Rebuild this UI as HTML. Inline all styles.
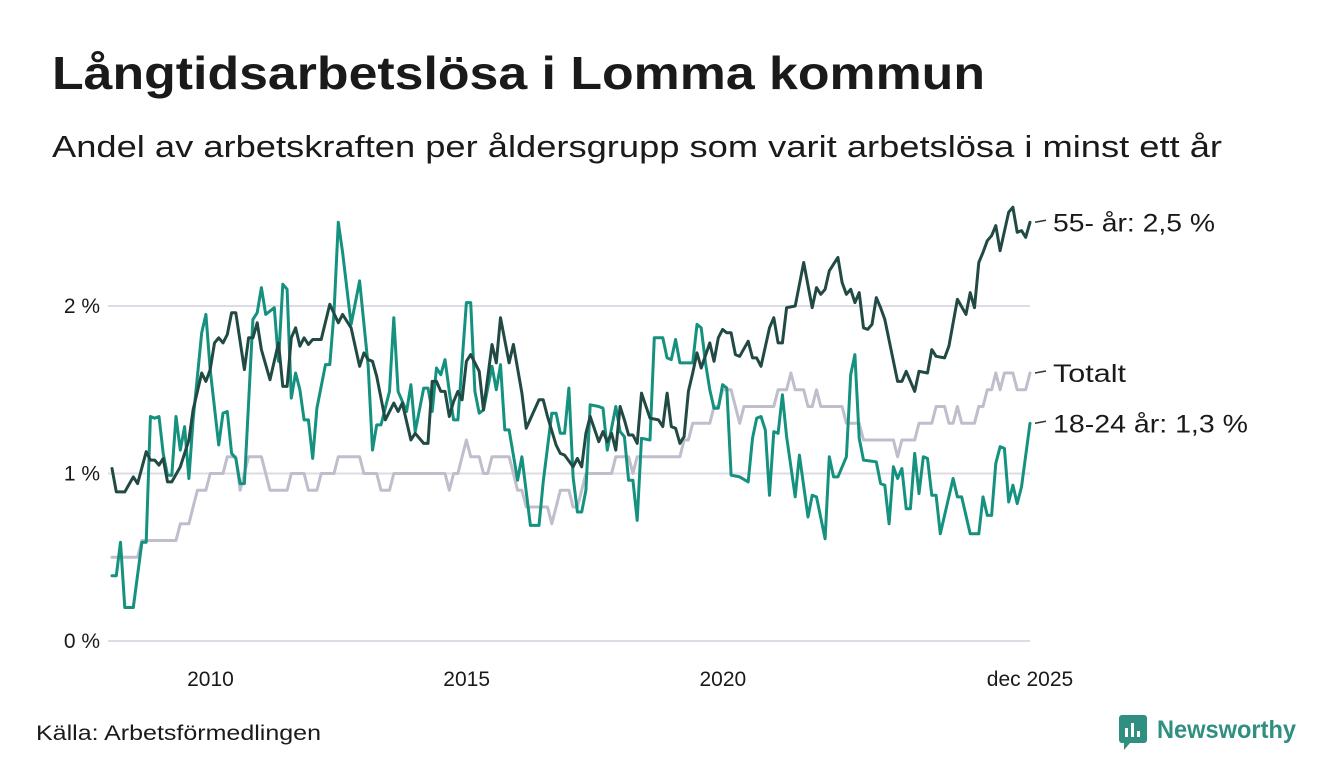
<!DOCTYPE html>
<html><head><meta charset="utf-8"><style>
html,body{margin:0;padding:0;background:#fff;}
svg{display:block;font-family:"Liberation Sans",sans-serif;}
</style></head><body>
<svg width="1340" height="780" viewBox="0 0 1340 780">
<text x="52" y="89" font-size="46" font-weight="bold" fill="#1a1a1a" textLength="933" lengthAdjust="spacingAndGlyphs">Långtidsarbetslösa i Lomma kommun</text>
<text x="52" y="157" font-size="31" fill="#1a1a1a" textLength="1170" lengthAdjust="spacingAndGlyphs">Andel av arbetskraften per åldersgrupp som varit arbetslösa i minst ett år</text>
<g id="grid"></g>
<g id="yticks"></g>
<g id="xticks"></g>
<g id="series"></g>
<g id="labels"></g>
<text x="36" y="740" font-size="21" fill="#1a1a1a" textLength="285" lengthAdjust="spacingAndGlyphs">Källa: Arbetsförmedlingen</text>
<g>
<rect x="1119" y="715" width="28" height="28" rx="3" fill="#2f8f80"/>
<rect x="1125" y="728" width="3" height="9" fill="#fff"/><rect x="1131" y="723" width="3" height="14" fill="#fff"/><rect x="1137" y="731" width="3" height="6" fill="#fff"/>
<path d="M1124 743 L1130 743 L1124 750 Z" fill="#2f8f80"/>
<text x="1157" y="738" font-size="25" font-weight="bold" fill="#2f8f80" textLength="139" lengthAdjust="spacingAndGlyphs">Newsworthy</text>
</g>
</svg>
<script>
const yTicks=[0,1,2];
const yTickLabels=["0 %","1 %","2 %"];
const xTickMonths=[24,84,144,215];
const xTickLabels=["2010","2015","2020","dec 2025"];
const totalt=[.5,.5,.5,.5,.5,.5,.5,.6,.6,.6,.6,.6,
.6,.6,.6,.6,.7,.7,.7,.8,.9,.9,.9,1.0,
1.0,1.0,1.0,1.1,1.1,1.1,.9,1.0,1.1,1.1,1.1,1.1,
1.0,.9,.9,.9,.9,.9,1.0,1.0,1.0,1.0,.9,.9,
.9,1.0,1.0,1.0,1.0,1.1,1.1,1.1,1.1,1.1,1.1,1.0,
1.0,1.0,1.0,.9,.9,.9,1.0,1.0,1.0,1.0,1.0,1.0,
1.0,1.0,1.0,1.0,1.0,1.0,1.0,.9,1.0,1.0,1.1,1.2,
1.1,1.1,1.1,1.0,1.0,1.1,1.1,1.1,1.1,1.1,1.0,.9,
.9,.8,.8,.8,.8,.8,.8,.7,.8,.9,.9,.9,
.8,.8,.9,1.0,1.0,1.0,1.0,1.0,1.0,1.0,1.1,1.1,
1.1,1.1,1.0,1.1,1.1,1.1,1.1,1.1,1.1,1.1,1.1,1.1,
1.1,1.1,1.2,1.2,1.3,1.3,1.3,1.3,1.3,1.4,1.4,1.5,
1.5,1.5,1.4,1.3,1.4,1.4,1.4,1.4,1.4,1.4,1.4,1.4,
1.5,1.5,1.5,1.6,1.5,1.5,1.5,1.4,1.4,1.5,1.4,1.4,
1.4,1.4,1.4,1.4,1.3,1.3,1.3,1.3,1.2,1.2,1.2,1.2,
1.2,1.2,1.2,1.2,1.1,1.2,1.2,1.2,1.2,1.3,1.3,1.3,
1.3,1.4,1.4,1.4,1.3,1.3,1.4,1.3,1.3,1.3,1.3,1.4,
1.4,1.5,1.5,1.6,1.5,1.6,1.6,1.6,1.5,1.5,1.5,1.6];
const oldMonths=[0,1,3,5,6,8,9,10,11,12,13,14,16,18,19,21,22,23,24,25,26,27,28,29,31,32,33,34,35,37,39,40,41,42,43,44,45,46,47,49,51,53,54,56,58,59,60,61,62,64,66,67,68,70,71,73,74,75,76,77,78,79,80,81,82,83,84,86,87,89,90,91,93,94,96,97,100,101,102,104,105,106,108,109,110,111,112,114,115,116,117,118,119,120,121,122,123,124,126,128,129,130,131,132,133,134,135,136,137,138,140,141,142,143,144,145,146,147,149,150,151,152,154,155,156,157,158,160,162,164,165,166,167,168,170,171,172,173,174,175,176,177,178,179,180,181,184,185,186,188,189,191,192,193,195,196,198,200,201,202,203,204,205,206,207,208,210,211,212,213,214,215];
const oldValues=[1.03,.89,.89,.98,.94,1.13,1.08,1.08,1.05,1.09,.95,.95,1.04,1.2,1.38,1.6,1.55,1.62,1.78,1.81,1.78,1.83,1.96,1.96,1.62,1.81,1.81,1.9,1.74,1.56,1.78,1.52,1.52,1.81,1.87,1.76,1.81,1.77,1.8,1.8,2.01,1.9,1.95,1.87,1.64,1.72,1.68,1.67,1.58,1.32,1.42,1.37,1.42,1.2,1.24,1.18,1.18,1.55,1.55,1.49,1.49,1.34,1.43,1.49,1.44,1.67,1.71,1.61,1.38,1.77,1.66,1.93,1.66,1.77,1.48,1.27,1.44,1.44,1.34,1.17,1.12,1.11,1.04,1.09,1.04,1.24,1.34,1.19,1.25,1.19,1.24,1.14,1.4,1.32,1.23,1.23,1.18,1.48,1.33,1.32,1.28,1.48,1.28,1.27,1.18,1.22,1.49,1.6,1.72,1.63,1.78,1.67,1.81,1.86,1.84,1.84,1.71,1.7,1.79,1.69,1.69,1.64,1.87,1.93,1.78,1.78,1.99,2.0,2.26,1.99,2.11,2.07,2.1,2.21,2.29,2.14,2.07,2.1,2.02,2.08,1.87,1.86,1.89,2.05,1.99,1.92,1.55,1.55,1.61,1.49,1.61,1.6,1.74,1.7,1.69,1.76,2.04,1.95,2.08,1.99,2.26,2.32,2.39,2.42,2.48,2.33,2.56,2.59,2.44,2.45,2.41,2.5];
const youngMonths=[0,1,2,3,5,7,8,9,10,11,12,13,14,15,16,17,18,19,20,21,22,23,25,26,27,28,29,30,31,33,34,35,36,38,39,40,41,42,43,44,45,46,47,48,50,51,52,53,54,56,58,60,61,62,63,65,66,67,69,70,71,73,74,75,76,77,78,79,80,81,83,84,85,86,87,89,90,91,92,93,95,96,98,100,101,103,104,105,106,107,108,109,110,111,112,114,115,116,118,119,120,121,122,123,124,126,127,129,130,131,132,133,135,136,137,138,139,140,141,142,143,144,145,147,149,150,151,152,153,154,155,156,157,158,160,161,163,164,165,167,168,169,170,172,173,174,175,176,179,180,181,182,183,184,185,186,187,188,189,190,191,192,193,194,197,198,199,201,203,204,205,206,207,208,209,210,211,212,213,215];
const youngValues=[.39,.39,.59,.2,.2,.59,.59,1.34,1.33,1.34,1.12,.99,.99,1.34,1.14,1.28,.97,1.32,1.58,1.84,1.95,1.62,1.17,1.36,1.37,1.12,1.09,.94,.94,1.92,1.96,2.11,1.95,1.99,1.67,2.13,2.1,1.45,1.6,1.5,1.32,1.32,1.09,1.39,1.65,1.65,1.96,2.5,2.32,1.89,2.15,1.64,1.14,1.29,1.29,1.49,1.93,1.49,1.37,1.53,1.25,1.51,1.51,1.37,1.63,1.59,1.68,1.49,1.32,1.32,2.02,2.02,1.49,1.36,1.38,1.64,1.5,1.65,1.26,1.26,.96,1.1,.69,.69,.95,1.36,1.36,1.24,1.24,1.51,.98,.77,.77,.9,1.41,1.4,1.39,1.14,1.4,1.25,1.22,.96,.96,.72,1.21,1.2,1.81,1.81,1.69,1.68,1.8,1.66,1.66,1.66,1.89,1.87,1.66,1.5,1.39,1.39,1.53,1.51,.99,.98,.95,1.21,1.33,1.34,1.26,.87,1.25,1.24,1.47,1.22,.86,1.11,.74,.87,.86,.61,1.1,.98,.98,1.1,1.59,1.71,1.21,1.08,1.07,.94,.93,.7,1.04,.97,1.03,.79,.79,1.12,.88,1.1,1.09,.87,.87,.64,.97,.86,.86,.64,.64,.86,.75,.75,1.06,1.16,1.15,.83,.93,.82,.92,1.3];
const seriesNames=["Totalt","55- år: 2,5 %","18-24 år: 1,3 %"];

const NS="http://www.w3.org/2000/svg";
const X0=112,X1=1030,M0=0,M1=215,Y0=641,PX=167.5;
const xScale=m=>X0+(m-M0)*(X1-X0)/(M1-M0);
const yScale=v=>Y0-v*PX;
const labelWidths=[73,162,195];
function mk(tag,parent,attrs){const e=document.createElementNS(NS,tag);for(const k in attrs)e.setAttribute(k,attrs[k]);parent.appendChild(e);return e;}
const grid=document.getElementById('grid'),yt=document.getElementById('yticks'),xt=document.getElementById('xticks'),sg=document.getElementById('series'),lg=document.getElementById('labels');
yTicks.forEach((v,i)=>{
  const l=mk('line',grid,{x1:108,x2:1030,y1:yScale(v),y2:yScale(v),stroke:'#dddbe3','stroke-width':2});
  
  
  const t=mk('text',yt,{x:100,y:yScale(v)+7,'font-size':21,fill:'#1a1a1a','text-anchor':'end'});
  t.textContent=yTickLabels[i];
  
  
});
xTickMonths.forEach((m,i)=>{
  const t=mk('text',xt,{x:i===3?xScale(m):xScale(m)-4,y:686,'font-size':21,fill:'#1a1a1a','text-anchor':'middle'});
  t.textContent=xTickLabels[i];
  
  
});
function line(months,vals,color,name){
  const d=vals.map((v,i)=>(i?'L':'M')+xScale(months[i]).toFixed(1)+' '+yScale(v).toFixed(1)).join(' ');
  const p=mk('path',sg,{d:d,fill:'none',stroke:color,'stroke-width':3,'stroke-linejoin':'round','stroke-linecap':'round'});
  
  
}
line(totalt.map((v,i)=>i),totalt,'#c0bdcc','line-totalt');
line(youngMonths,youngValues,'#15917f','line-18-24');
line(oldMonths,oldValues,'#214a44','line-55-plus');
const ends=[totalt[totalt.length-1],oldValues[oldValues.length-1],youngValues[youngValues.length-1]];
ends.forEach((v,i)=>{
  const y=yScale(v);
  const l=mk('line',lg,{x1:1035,x2:1046,y1:y,y2:y-2,stroke:'#333','stroke-width':1.5});
  
  
  const t=mk('text',lg,{x:1053,y:y+9,'font-size':25,fill:'#1a1a1a',textLength:labelWidths[i],lengthAdjust:'spacingAndGlyphs'});
  t.textContent=seriesNames[i];
  
  
});
</script>
</body></html>
